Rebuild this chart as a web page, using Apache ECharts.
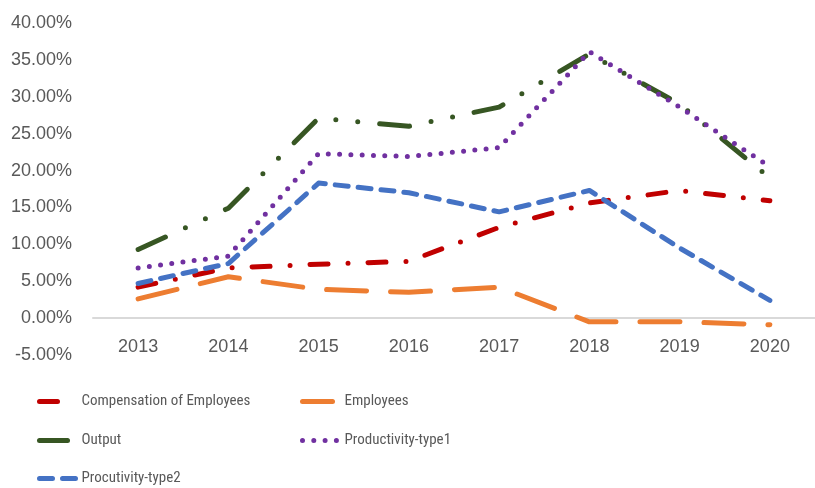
<!DOCTYPE html>
<html>
<head>
<meta charset="UTF-8">
<title>Growth rates 2013-2020</title>
<script src="https://cdn.jsdelivr.net/npm/echarts@6/dist/echarts.min.js"></script>
</head>
<body style="margin:0;background:#fff;">
<div id="chart" style="width:815px;height:488px;"></div>
<script type="text/javascript">
    var years = ['2013', '2014', '2015', '2016', '2017', '2018', '2019', '2020'];
    // values in percent
    var compensation = [4.2, 6.8, 7.3, 7.7, 12.3, 15.6, 17.3, 15.9];
    var employees = [2.6, 5.6, 3.9, 3.5, 4.2, -0.5, -0.5, -0.9];
    var output = [9.3, 14.9, 27.1, 26.0, 28.6, 35.8, 29.0, 19.0];
    var productivity1 = [6.8, 8.4, 22.3, 21.9, 23.1, 36.1, 28.6, 20.5];
    var productivity2 = [4.7, 7.4, 18.3, 17.0, 14.4, 17.3, 9.5, 2.4];

    var names = ['Compensation of Employees', 'Employees', 'Output', 'Productivity-type1', 'Procutivity-type2'];

    var font = "'Liberation Sans Narrow', 'Roboto Condensed', Roboto, sans-serif";

    function line(name, data, color, dash) {
        return {
            name: name,
            type: 'line',
            data: data,
            symbol: 'none',
            lineStyle: {color: color, width: 5, type: dash, cap: 'round', join: 'round'},
            itemStyle: {color: color},
            z: 2
        };
    }

    function legendItem(name, left, top, w, pad) {
        return {
            data: [name],
            left: left,
            top: top,
            itemWidth: w,
            itemHeight: 14,
            padding: 0,
            itemStyle: {opacity: 0},
            lineStyle: {width: 5},
            textStyle: {color: '#595959', fontSize: 15, fontFamily: font, padding: [0, 0, 0, pad]}
        };
    }

    var myChart = echarts.init(document.getElementById('chart'));
    myChart.setOption({
        animation: false,
        grid: {left: 93, top: 23, right: -11, bottom: 133},
        legend: [
            legendItem(names[0], 37, 394, 30, 7),
            legendItem(names[1], 300, 394, 30, 7),
            legendItem(names[2], 37, 433, 28, 9),
            legendItem(names[3], 300, 433, 37, 0),
            legendItem(names[4], 37, 471, 37, 0)
        ],
        xAxis: {
            type: 'category',
            data: years,
            axisLine: {onZero: true, lineStyle: {color: '#D9D9D9', width: 2}},
            axisTick: {show: false},
            axisLabel: {color: '#595959', fontSize: 18, fontFamily: "'Liberation Sans', sans-serif", margin: -17}
        },
        yAxis: {
            type: 'value',
            min: -5,
            max: 40,
            interval: 5,
            splitLine: {show: false},
            axisLine: {show: false},
            axisTick: {show: false},
            axisLabel: {
                color: '#595959', fontSize: 18, fontFamily: "'Liberation Sans', sans-serif", margin: 21,
                formatter: function (v) {
                    return v.toFixed(2) + '%';
                }
            }
        },
        series: [
            line(names[0], compensation, '#C00000', [18, 20, 0, 20]),
            line(names[1], employees, '#ED7D31', [40, 24]),
            line(names[2], output, '#375623', [30, 22, 0, 22, 0, 22]),
            line(names[3], productivity1, '#7030A0', [0, 11.3]),
            line(names[4], productivity2, '#4472C4', [13, 10])
        ]
    });
</script>
</body>
</html>
